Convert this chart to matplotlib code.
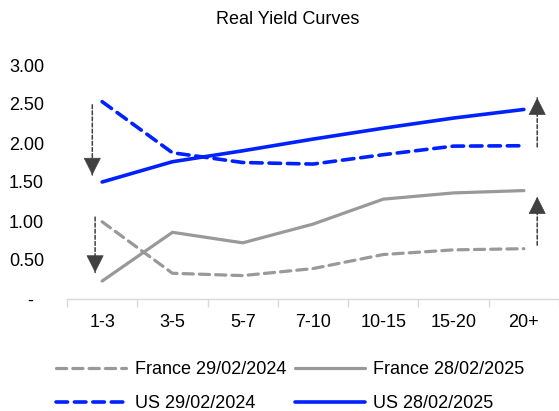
import numpy as np
import matplotlib
matplotlib.use("Agg")
import matplotlib.pyplot as plt

plt.rcParams['font.family'] = ['Liberation Sans', 'DejaVu Sans']

# Data
maturities = ['1-3', '3-5', '5-7', '7-10', '10-15', '15-20', '20+']
france_2024 = [0.99, 0.33, 0.30, 0.39, 0.57, 0.63, 0.645]
france_2025 = [0.23, 0.855, 0.72, 0.96, 1.28, 1.36, 1.39]
us_2024 = [2.53, 1.875, 1.75, 1.73, 1.85, 1.96, 1.965]
us_2025 = [1.50, 1.76, 1.90, 2.05, 2.19, 2.32, 2.43]

y_ticks = [0, 0.5, 1.0, 1.5, 2.0, 2.5, 3.0]
y_labels = ['-  ', '0.50', '1.00', '1.50', '2.00', '2.50', '3.00']

# annotation arrows: (x position in category units, tail value, tip value)
arrow_x = [-0.14, -0.10, 6.19, 6.19]
arrow_from = [2.49, 1.05, 1.95, 0.69]
arrow_to = [1.59, 0.34, 2.58, 1.31]

blue = '#0021ff'
grey = '#999999'
dark = '#404040'
fs = 13

fig = plt.figure(figsize=(5.59, 4.11), dpi=100)
ax = fig.add_axes([67 / 559, 1 - 299 / 411, 1 - 67 / 559, (299 - 65) / 411])

x = np.arange(len(maturities))
dash = (0, (3.2, 1.9))
l1, = ax.plot(x, france_2024, color=grey, lw=2.3, ls=dash, dash_capstyle='round',
              label='France 29/02/2024')
l2, = ax.plot(x, france_2025, color=grey, lw=2.3, solid_capstyle='round',
              label='France 28/02/2025')
l3, = ax.plot(x, us_2024, color=blue, lw=2.6, ls=dash, dash_capstyle='round',
              label='US 29/02/2024')
l4, = ax.plot(x, us_2025, color=blue, lw=2.6, solid_capstyle='round',
              label='US 28/02/2025')

for xa, y0, y1 in zip(arrow_x, arrow_from, arrow_to):
    # dashed shaft
    ax.annotate('', xy=(xa, y1), xytext=(xa, y0),
                arrowprops=dict(arrowstyle='-', color=dark, lw=1.1,
                                ls=(0, (2.5, 1.5)), shrinkA=0, shrinkB=0))
    # solid head
    off = 11 if y1 < y0 else -11
    ax.annotate('', xy=(xa, y1), xytext=(0, off), textcoords='offset points',
                arrowprops=dict(arrowstyle='-|>,head_length=1.15,head_width=0.58',
                                color=dark, lw=0.5, shrinkA=0, shrinkB=0))

ax.set_xlim(-0.5, len(maturities) - 0.5)
ax.set_ylim(0, 3.0)

ax.set_xticks(x)
ax.set_xticklabels(maturities, fontsize=fs)
ax.set_xticks(np.arange(len(maturities) + 1) - 0.5, minor=True)
ax.tick_params(axis='x', which='major', length=0, pad=11)
ax.tick_params(axis='x', which='minor', length=6, color='#d9d9d9', width=1)

ax.set_yticks(y_ticks)
ax.set_yticklabels(y_labels, fontsize=fs)
ax.tick_params(axis='y', length=0, pad=16.5)

for side in ['top', 'right', 'left']:
    ax.spines[side].set_visible(False)
ax.spines['bottom'].set_color('#d9d9d9')
ax.spines['bottom'].set_linewidth(1)

fig.text(288 / 559, 1 - 20 / 411, 'Real Yield Curves', ha='center', va='center', fontsize=fs)

# row-major order like the reference: France row, then US row
fig.legend(handles=[l1, l3, l2, l4], ncol=2, loc='center left',
           bbox_to_anchor=(56 / 559, 1 - 386.5 / 411), frameon=False,
           fontsize=fs, handlelength=3.9, handletextpad=0.45, columnspacing=0.5,
           labelspacing=0.95, borderpad=0, borderaxespad=0)

fig.savefig('out.png', dpi=100)
